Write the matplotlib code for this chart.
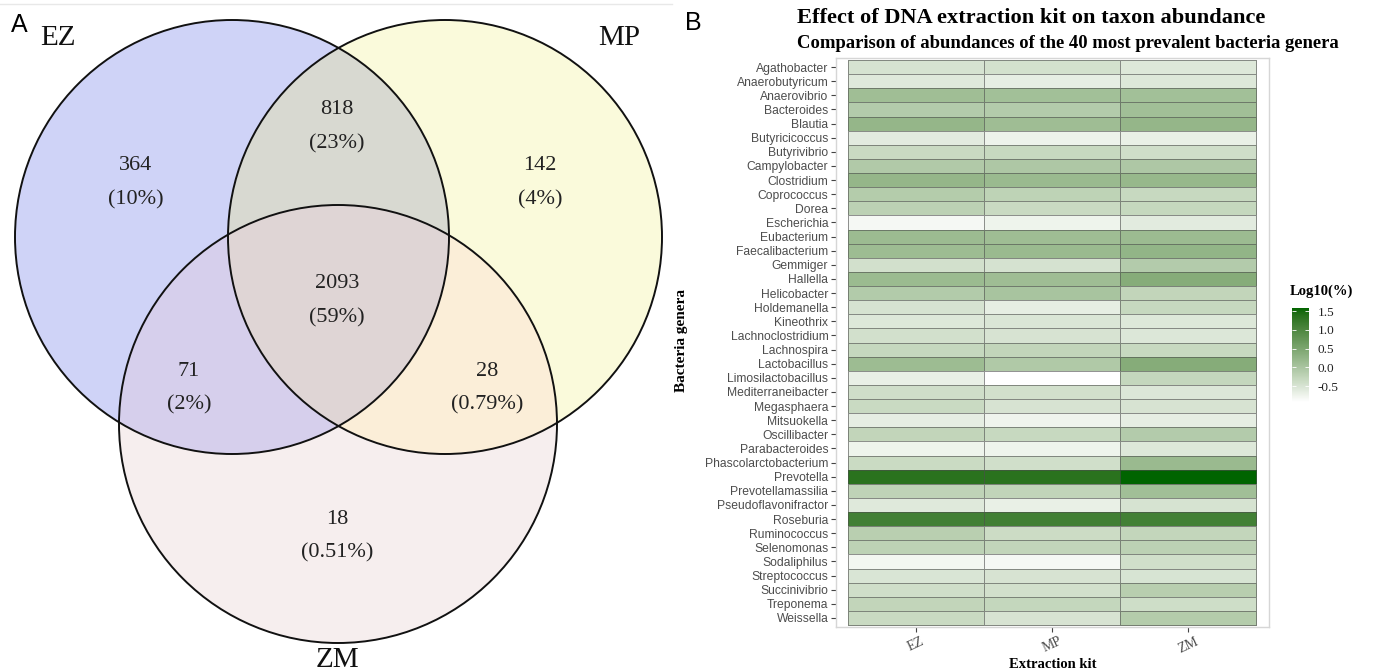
import numpy as np
import matplotlib
matplotlib.use("Agg")
import matplotlib.pyplot as plt
from matplotlib.patches import Circle, Polygon
from matplotlib.colors import ListedColormap, Normalize

# ---------------- data ----------------
set_names = ["EZ", "MP", "ZM"]
region_keys = ["EZ", "MP", "ZM", "EZ&MP", "EZ&ZM", "MP&ZM", "EZ&MP&ZM"]
region_counts = [364, 142, 18, 818, 71, 28, 2093]
region_pcts = ["10%", "4%", "0.51%", "23%", "2%", "0.79%", "59%"]

genera = ["Agathobacter", "Anaerobutyricum", "Anaerovibrio", "Bacteroides", "Blautia",
          "Butyricicoccus", "Butyrivibrio", "Campylobacter", "Clostridium", "Coprococcus",
          "Dorea", "Escherichia", "Eubacterium", "Faecalibacterium", "Gemmiger",
          "Hallella", "Helicobacter", "Holdemanella", "Kineothrix", "Lachnoclostridium",
          "Lachnospira", "Lactobacillus", "Limosilactobacillus", "Mediterraneibacter", "Megasphaera",
          "Mitsuokella", "Oscillibacter", "Parabacteroides", "Phascolarctobacterium", "Prevotella",
          "Prevotellamassilia", "Pseudoflavonifractor", "Roseburia", "Ruminococcus", "Selenomonas",
          "Sodaliphilus", "Streptococcus", "Succinivibrio", "Treponema", "Weissella"]
kits = ["EZ", "MP", "ZM"]
log_ez = [-0.48, -0.57, 0.11, -0.10, 0.23, -0.61, -0.34, -0.08, 0.23, -0.11,
          -0.20, -0.81, 0.15, 0.14, -0.44, 0.16, -0.09, -0.48, -0.55, -0.44,
          -0.30, 0.14, -0.68, -0.41, -0.34, -0.65, -0.26, -0.74, -0.35, 1.34,
          -0.23, -0.57, 1.13, -0.16, -0.21, -0.79, -0.51, -0.41, -0.26, -0.34]
log_mp = [-0.45, -0.65, 0.08, -0.10, 0.12, -0.73, -0.32, -0.05, 0.17, -0.22,
          -0.34, -0.74, 0.12, 0.17, -0.47, 0.12, 0.01, -0.65, -0.52, -0.49,
          -0.26, -0.07, -0.92, -0.44, -0.49, -0.75, -0.32, -0.74, -0.42, 1.34,
          -0.25, -0.68, 1.13, -0.37, -0.26, -0.81, -0.49, -0.44, -0.29, -0.49]
log_zm = [-0.55, -0.55, 0.08, 0.09, 0.23, -0.68, -0.41, -0.05, 0.21, -0.32,
          -0.30, -0.61, 0.15, 0.26, -0.10, 0.39, -0.26, -0.31, -0.55, -0.54,
          -0.32, 0.39, -0.29, -0.54, -0.49, -0.65, -0.10, -0.55, 0.17, 1.58,
          0.09, -0.48, 1.12, -0.27, -0.20, -0.42, -0.50, -0.15, -0.40, -0.11]
cbar_ticks = [-0.5, 0.0, 0.5, 1.0, 1.5]

# ---------------- helpers: Lab gradient (ggplot-like) ----------------
_M = np.array([[0.4124, 0.3576, 0.1805], [0.2126, 0.7152, 0.0722], [0.0193, 0.1192, 0.9505]])
_Minv = np.linalg.inv(_M)
_WP = np.array([0.95047, 1.0, 1.08883])


def _lin(c):
    c = np.asarray(c, float)
    return np.where(c <= 0.04045, c / 12.92, ((c + 0.055) / 1.055) ** 2.4)


def _gam(c):
    c = np.clip(c, 0, 1)
    return np.where(c <= 0.0031308, 12.92 * c, 1.055 * c ** (1 / 2.4) - 0.055)


def _f(t):
    d = 6 / 29
    return np.where(t > d ** 3, np.cbrt(t), t / (3 * d * d) + 4 / 29)


def _finv(t):
    d = 6 / 29
    return np.where(t > d, t ** 3, 3 * d * d * (t - 4 / 29))


def to_lab(rgb):
    xyz = _M @ _lin(rgb) / _WP
    fx, fy, fz = _f(xyz)
    return np.array([116 * fy - 16, 500 * (fx - fy), 200 * (fy - fz)])


def from_lab(lab):
    L, a, b = lab
    fy = (L + 16) / 116
    xyz = _finv(np.array([fy + a / 500, fy, fy - b / 200])) * _WP
    return _gam(_Minv @ xyz)


lo = to_lab(np.array([1.0, 1.0, 1.0]))
hi = to_lab(np.array([0.0, 100 / 255, 0.0]))
cmap = ListedColormap([from_lab(lo + (hi - lo) * t) for t in np.linspace(0, 1, 256)])

# ---------------- figure ----------------
W, H = 1382, 672
fig = plt.figure(figsize=(W / 100, H / 100), dpi=100)
fig.patch.set_facecolor("white")

serif = "Liberation Serif"
sans = "Liberation Sans"

# ---- Venn panel (pixel coordinates) ----
axv = fig.add_axes([0, 0, 680 / W, 1])
axv.set_xlim(0, 680)
axv.set_ylim(672, 0)
axv.axis("off")

centers = {"EZ": (232, 237), "MP": (445, 237), "ZM": (338, 424)}
radii = {"EZ": 217, "MP": 217, "ZM": 219}
single_col = {"EZ": "#cfd3f7", "MP": "#fafadb", "ZM": "#f6eeee"}
pair_col = {("EZ", "MP"): "#d8d9d1", ("EZ", "ZM"): "#d6cfec", ("MP", "ZM"): "#fbeed8"}
triple_col = "#dfd5d5"


def circ(name, **kw):
    return Circle(centers[name], radii[name], **kw)


for n in set_names:
    axv.add_patch(circ(n, facecolor=single_col[n], edgecolor="none", zorder=1))
for (a, b), c in pair_col.items():
    clip = circ(b, transform=axv.transData)
    p = circ(a, facecolor=c, edgecolor="none", zorder=2)
    axv.add_patch(p)
    p.set_clip_path(clip)

# lens polygon of EZ & MP for clipping the triple region
th = np.linspace(0, 2 * np.pi, 2000)
pts = []
for a, b in [("EZ", "MP"), ("MP", "EZ")]:
    cx, cy = centers[a]
    px = cx + radii[a] * np.cos(th)
    py = cy + radii[a] * np.sin(th)
    bx, by = centers[b]
    m = (px - bx) ** 2 + (py - by) ** 2 <= radii[b] ** 2
    pts.append(np.column_stack([px[m], py[m]]))
pts = np.vstack(pts)
cen = pts.mean(axis=0)
order = np.argsort(np.arctan2(pts[:, 1] - cen[1], pts[:, 0] - cen[0]))
lens = Polygon(pts[order], closed=True, transform=axv.transData)
p3 = circ("ZM", facecolor=triple_col, edgecolor="none", zorder=3)
axv.add_patch(p3)
p3.set_clip_path(lens)

for n in set_names:
    axv.add_patch(circ(n, fill=False, edgecolor="#111111", lw=1.4, zorder=5))

label_pos = {"EZ": (136, 166), "MP": (540, 166), "ZM": (337, 519),
             "EZ&MP": (337, 110), "EZ&ZM": (189, 371), "MP&ZM": (487, 371),
             "EZ&MP&ZM": (337, 284)}
for k, cnt, pct in zip(region_keys, region_counts, region_pcts):
    x, y = label_pos[k]
    axv.text(x, y, str(cnt), ha="center", va="center", fontsize=16,
             family=serif, color="#222222", zorder=6)
    axv.text(x, y + 34, f"({pct})", ha="center", va="center", fontsize=16,
             family=serif, color="#222222", zorder=6)

set_label_pos = {"EZ": (58, 38), "MP": (619, 38), "ZM": (337, 660)}
for n in set_names:
    x, y = set_label_pos[n]
    axv.text(x, y, n, ha="center", va="center", fontsize=21, family=serif,
             color="#111111", zorder=6)
axv.plot([0, 672], [4, 4], color="#e8e8e8", lw=1, zorder=0)

fig.text(19 / W, 1 - 25 / H, "A", ha="center", va="center", fontsize=18,
         family=sans, color="black")
fig.text(693 / W, 1 - 23 / H, "B", ha="center", va="center", fontsize=18,
         family=sans, color="black")

# ---- Heatmap panel ----
px0, px1, py0, py1 = 836, 1269, 58, 627
axh = fig.add_axes([px0 / W, 1 - py1 / H, (px1 - px0) / W, (py1 - py0) / H])
vals = np.column_stack([log_ez, log_mp, log_zm])
vmin, vmax = -0.92, 1.58
norm = Normalize(vmin=vmin, vmax=vmax)
xe = np.arange(len(kits) + 1) + 0.5
ye = np.arange(len(genera) + 1) - 0.5
mesh = axh.pcolormesh(xe, ye, vals, cmap=cmap, norm=norm,
                      edgecolors=(0.3, 0.3, 0.3, 0.6), linewidth=0.6)
axh.set_xlim(0.5 - 12 / 136, 3.5 + 13 / 136)
axh.set_ylim(len(genera) - 0.5 + 2 / 14.125, -0.5 - 2 / 14.125)
axh.set_yticks(np.arange(len(genera)))
axh.set_yticklabels(genera, family=sans, fontsize=8.7, color="#4d4d4d")
axh.set_xticks(np.arange(1, len(kits) + 1))
axh.set_xticklabels(kits, family=serif, fontsize=10, color="#4d4d4d",
                    rotation=25, ha="center")
axh.tick_params(axis="both", length=3.5, width=0.8, color="#444444", pad=2)
for s in axh.spines.values():
    s.set_color("#d6d6d6")
    s.set_linewidth(1.0)
axh.set_xlabel("Extraction kit", family=serif, fontweight="bold", fontsize=10.5,
               labelpad=2)
fig.text(682 / W, 1 - 340 / H, "Bacteria genera", rotation=90, ha="center",
         va="center", family=serif, fontweight="bold", fontsize=11)

fig.text(797 / W, 1 - 18 / H, "Effect of DNA extraction kit on taxon abundance",
         ha="left", va="center", family=serif, fontweight="bold", fontsize=16.1)
fig.text(797 / W, 1 - 43 / H,
         "Comparison of abundances of the 40 most prevalent bacteria genera",
         ha="left", va="center", family=serif, fontweight="bold", fontsize=13.4)

# ---- Colorbar ----
cax = fig.add_axes([1292 / W, 1 - 402 / H, 17 / W, 94 / H])
cb = fig.colorbar(mesh, cax=cax, ticks=cbar_ticks)
cb.outline.set_visible(False)
cb.ax.set_yticklabels([f"{t:.1f}" for t in cbar_ticks], family=serif, fontsize=9.5,
                      color="#222222")
cb.ax.tick_params(which="both", direction="in", length=3, width=0.6, colors="white",
                  labelcolor="#222222", left=True, right=True, pad=6)
cb.ax.minorticks_off()
fig.text(1290 / W, 1 - 291 / H, "Log10(%)", ha="left", va="center", family=serif,
         fontweight="bold", fontsize=10.5)

fig.savefig("out.png", dpi=100, facecolor="white")
